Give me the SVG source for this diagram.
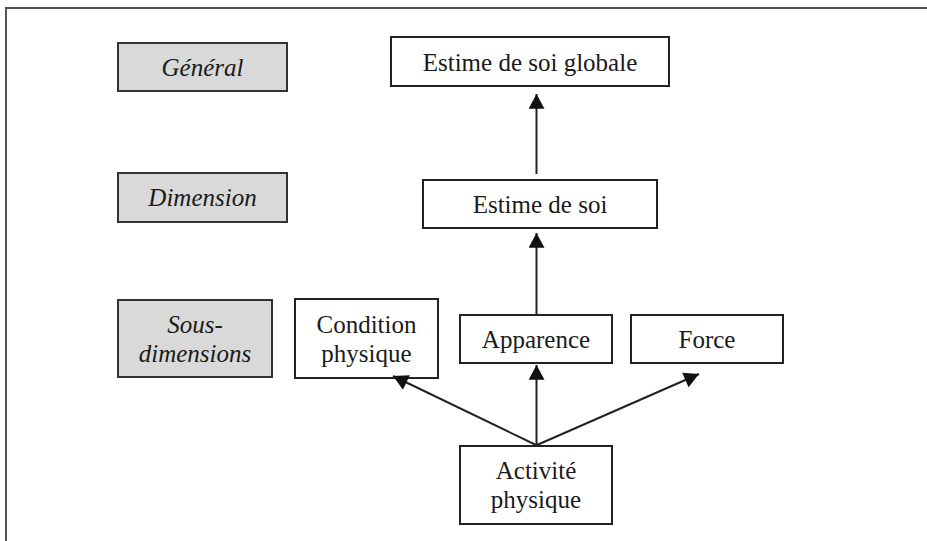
<svg xmlns="http://www.w3.org/2000/svg" width="927" height="541" viewBox="0 0 927 541">
  <style>
    .box { fill: #ffffff; stroke: #222222; stroke-width: 2; }
    .lvl { fill: #d9d9d9; stroke: #333333; stroke-width: 2; }
    .t { font-family: "Liberation Serif", "Times New Roman", serif; font-size: 25px; fill: #1a1a1a; text-anchor: middle; }
    .it { font-style: italic; }
    .conn { stroke: #222222; stroke-width: 2; fill: none; marker-end: url(#ah); }
    .frame { stroke: #555555; stroke-width: 2; fill: none; }
  </style>
  <defs>
    <marker id="ah" markerUnits="userSpaceOnUse" markerWidth="16" markerHeight="16" viewBox="0 0 13 14" refX="13" refY="7" orient="auto">
      <path d="M0,0 L13,7 L0,14 Z" fill="#111111"/>
    </marker>
  </defs>
  <rect width="927" height="541" fill="#ffffff"/>
  <path class="frame" d="M6,541 L6,8 L927,8"/>

  <g id="level-general">
    <rect class="lvl" x="118" y="43" width="169" height="48"/>
    <text class="t it" x="202.5" y="76">Général</text>
  </g>
  <g id="level-dimension">
    <rect class="lvl" x="118" y="173" width="169" height="49"/>
    <text class="t it" x="202.5" y="206">Dimension</text>
  </g>
  <g id="level-sous-dimensions">
    <rect class="lvl" x="118" y="300" width="154" height="77"/>
    <text class="t it" x="195" y="333">Sous-</text>
    <text class="t it" x="195" y="362">dimensions</text>
  </g>

  <g id="estime-globale">
    <rect class="box" x="391" y="37" width="278" height="49"/>
    <text class="t" x="530" y="71">Estime de soi globale</text>
  </g>
  <g id="estime-de-soi">
    <rect class="box" x="423" y="180" width="234" height="48"/>
    <text class="t" x="540" y="213">Estime de soi</text>
  </g>
  <g id="condition-physique">
    <rect class="box" x="295" y="299" width="143" height="79"/>
    <text class="t" x="366.5" y="333">Condition</text>
    <text class="t" x="366.5" y="362">physique</text>
  </g>
  <g id="apparence">
    <rect class="box" x="460" y="315" width="152" height="48"/>
    <text class="t" x="536" y="348">Apparence</text>
  </g>
  <g id="force">
    <rect class="box" x="631" y="315" width="152" height="48"/>
    <text class="t" x="707" y="348">Force</text>
  </g>
  <g id="activite-physique">
    <rect class="box" x="460" y="446" width="152" height="78"/>
    <text class="t" x="536" y="479">Activité</text>
    <text class="t" x="536" y="508">physique</text>
  </g>

  <g id="connectors">
    <line class="conn" x1="536.5" y1="174" x2="536.5" y2="94"/>
    <line class="conn" x1="536.5" y1="315" x2="536.5" y2="233"/>
    <line class="conn" x1="536.5" y1="446" x2="536.5" y2="365"/>
    <line class="conn" x1="536" y1="445" x2="393" y2="376"/>
    <line class="conn" x1="537" y1="445" x2="699" y2="374"/>
  </g>
</svg>
